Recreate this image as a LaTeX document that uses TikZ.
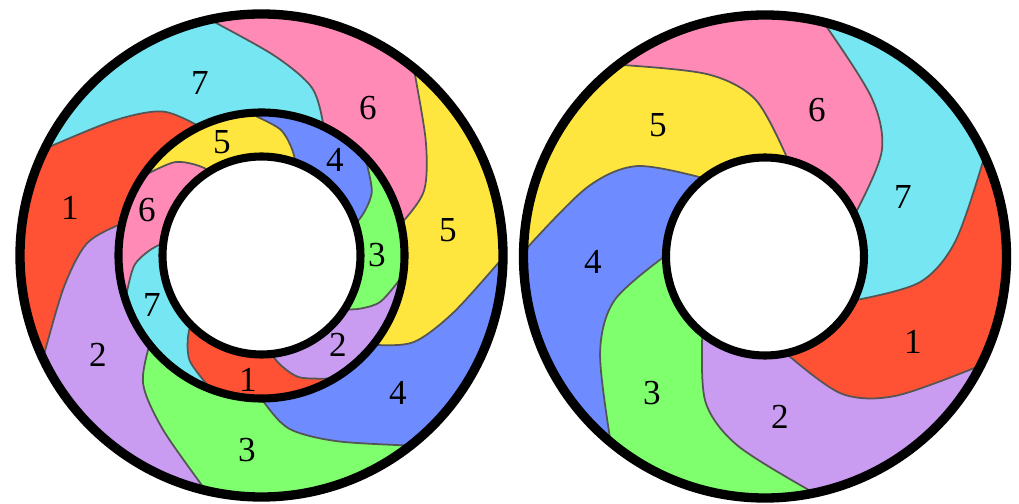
\documentclass[tikz,border=0pt]{standalone}
\usepackage{fontspec}
\setmainfont{Liberation Serif}
\definecolor{tone1}{HTML}{FF5234}
\definecolor{tone2}{HTML}{C99CF1}
\definecolor{tone3}{HTML}{80FF6E}
\definecolor{tone4}{HTML}{6E8CFF}
\definecolor{tone5}{HTML}{FFE63F}
\definecolor{tone6}{HTML}{FF8AB6}
\definecolor{tone7}{HTML}{76E6F2}
\definecolor{armgray}{HTML}{555555}

% spiral arms as (angle : radius), forward and backward
\newcommand{\outerfwd}[1]{-- plot[smooth] coordinates {(#1-3:128) (#1:143) (#1+9:175) (#1+22:200) (#1+38:241) (#1+43:262)}}
\newcommand{\outerrev}[1]{-- plot[smooth] coordinates {(#1+43:262) (#1+38:241) (#1+22:200) (#1+9:175) (#1:143) (#1-3:128)}}
\newcommand{\innerfwd}[1]{-- plot[smooth] coordinates {(#1-3:88) (#1:99) (#1+5:113) (#1+12:128) (#1+25:143) (#1+31:152)}}
\newcommand{\innerrev}[1]{-- plot[smooth] coordinates {(#1+31:152) (#1+25:143) (#1+12:128) (#1+5:113) (#1:99) (#1-3:88)}}
\newcommand{\rightfwd}[1]{-- plot[smooth] coordinates {(#1-5:82) (#1:99) (#1+17:157) (#1+31:191) (#1+51:241.5) (#1+56:258)}}
\newcommand{\rightrev}[1]{-- plot[smooth] coordinates {(#1+56:258) (#1+51:241.5) (#1+31:191) (#1+17:157) (#1:99) (#1-5:82)}}

\begin{document}
\begin{tikzpicture}[
    x=0.02cm, y=0.02cm,
    armline/.style={draw=armgray, line width=1pt},
    ring/.style={draw=black, line width=4.6pt},
    rim/.style={draw=black, line width=5.3pt},
    num/.style={font=\fontsize{20}{20}\selectfont, inner sep=0pt}
]
\useasboundingbox (0,0) rectangle (1019,504);

% left disc, two rings
\begin{scope}[shift={(261.5,248.5)}]
  \begin{scope}
    \clip (0,0) circle[radius=241.5];
    \foreach \n in {1,...,7} {
      \pgfmathsetmacro\s{115.6+(\n-1)*51.43}
      \pgfmathsetmacro\e{\s+51.43}
      \fill[tone\n] (0,0) \outerfwd{\s} -- (\s+70:330) \outerrev{\e} -- cycle;
    }
    \foreach \n in {1,...,7} {
      \pgfmathsetmacro\s{115.6+(\n-1)*51.43}
      \draw[armline] (\s-3:128) \outerfwd{\s};
    }
  \end{scope}
  \begin{scope}
    \clip (0,0) circle[radius=143];
    \foreach \n in {1,...,7} {
      \pgfmathsetmacro\s{69.9+mod(\n+2,7)*51.43}
      \pgfmathsetmacro\e{\s+51.43}
      \fill[tone\n] (0,0) \innerfwd{\s} -- (\s+57:190) \innerrev{\e} -- cycle;
    }
    \foreach \n in {1,...,7} {
      \pgfmathsetmacro\s{69.9+mod(\n+2,7)*51.43}
      \draw[armline] (\s-3:88) \innerfwd{\s};
    }
  \end{scope}
  \fill[white] (0,0) circle[radius=99];
  \draw[rim] (0,0) circle[radius=241.5];
  \draw[ring] (0,0) circle[radius=143];
  \draw[ring] (0,0) circle[radius=99];
\end{scope}

% right disc, one ring
\begin{scope}[shift={(765,247.5)}]
  \begin{scope}
    \clip (0,0) circle[radius=241.5];
    \foreach \n in {1,...,7} {
      \pgfmathsetmacro\s{25-(mod(\n,7)+1)*51.43}
      \pgfmathsetmacro\e{\s+51.43}
      \fill[tone\n] (0,0) \rightfwd{\s} -- (\s+82:330) \rightrev{\e} -- cycle;
    }
    \foreach \n in {1,...,7} {
      \pgfmathsetmacro\s{25-(mod(\n,7)+1)*51.43}
      \draw[armline] (\s-5:82) \rightfwd{\s};
    }
  \end{scope}
  \fill[white] (0,0) circle[radius=99];
  \draw[rim] (0,0) circle[radius=241.5];
  \draw[ring] (0,0) circle[radius=99];
\end{scope}

% labels
\foreach \n/\x/\y in {1/70/296, 2/98/149, 3/247/54, 4/398/111, 5/448/274, 6/368/396, 7/200/421}
  \node[num] (lo\n) at (\x,\y) {\n};
\foreach \n/\x/\y in {1/248/124, 2/338/159, 3/377/249, 4/335/344, 5/222/362, 6/147/294, 7/152/199}
  \node[num] (li\n) at (\x,\y) {\n};
\foreach \n/\x/\y in {1/913/162, 2/780/87, 3/652/111, 4/593/242, 5/658/379, 6/817/394, 7/903/307}
  \node[num] (r\n) at (\x,\y) {\n};
\end{tikzpicture}
\end{document}
